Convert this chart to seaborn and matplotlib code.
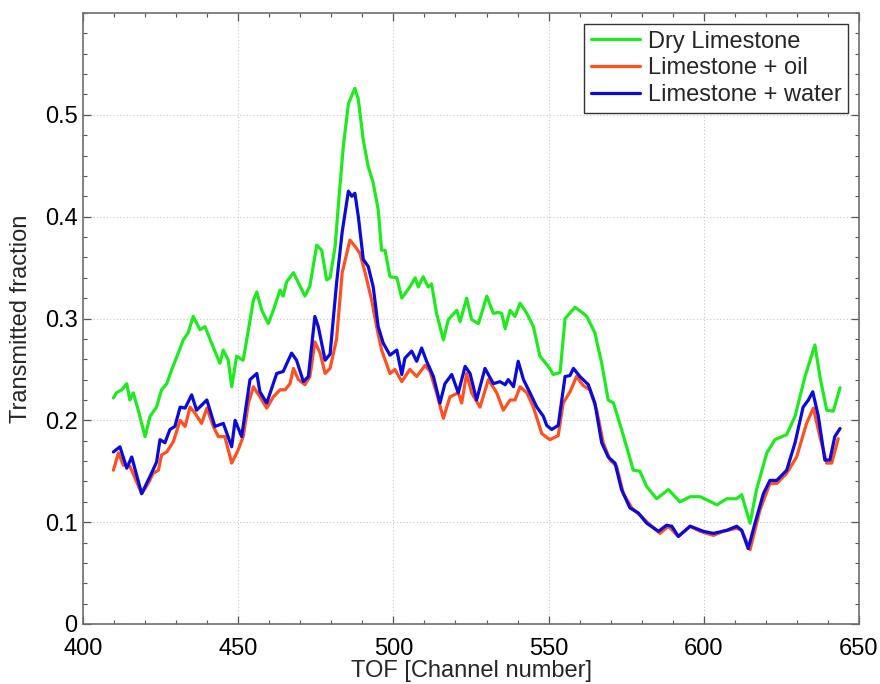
import numpy as np
import pandas as pd
import matplotlib
matplotlib.use("Agg")
import matplotlib.pyplot as plt
import seaborn as sns

series_names = ["Dry Limestone", "Limestone + oil", "Limestone + water"]
series_colors = ["#1EEB1E", "#FF5020", "#0A0ADC"]

x_dry = [409.8, 410.8, 412.5, 414.1, 415.1, 416.2, 417.8, 420.0, 421.6, 423.7, 425.3, 427.0, 428.6, 430.7,
         432.3, 433.9, 435.5, 437.7, 439.3, 441.4, 444.1, 445.2, 446.8, 447.9, 449.5, 451.6, 453.3, 454.9,
         456.0, 457.6, 459.7, 461.3, 463.5, 464.5, 465.6, 467.8, 469.4, 471.5, 473.1, 475.3, 476.9, 478.5,
         479.6, 481.2, 482.5, 483.9, 485.5, 487.6, 488.7, 490.3, 491.9, 493.5, 495.1, 496.2, 497.3, 498.9,
         501.1, 502.7, 505.3, 507.0, 508.0, 509.6, 511.2, 512.3, 513.9, 516.1, 517.7, 520.4, 521.5, 523.6,
         525.2, 527.4, 530.1, 532.2, 533.8, 534.9, 536.0, 537.6, 539.2, 540.8, 543.0, 545.1, 547.2, 549.9,
         551.5, 553.7, 555.3, 558.5, 561.2, 562.3, 564.9, 567.1, 569.2, 570.9, 573.5, 575.7, 577.3, 579.4,
         581.6, 584.8, 588.6, 592.3, 595.6, 598.8, 600.9, 604.2, 607.4, 610.6, 612.2, 614.9, 617.0, 620.3,
         622.9, 626.7, 629.4, 632.6, 635.8, 637.4, 639.6, 641.7, 643.9]
y_dry = [0.222, 0.227, 0.230, 0.236, 0.220, 0.227, 0.210, 0.184, 0.204, 0.213, 0.230, 0.236, 0.250, 0.266,
         0.279, 0.286, 0.302, 0.289, 0.292, 0.276, 0.256, 0.269, 0.259, 0.233, 0.263, 0.259, 0.289, 0.318,
         0.326, 0.308, 0.295, 0.308, 0.328, 0.322, 0.336, 0.345, 0.335, 0.322, 0.332, 0.372, 0.367, 0.338,
         0.340, 0.370, 0.420, 0.470, 0.511, 0.526, 0.515, 0.475, 0.449, 0.433, 0.407, 0.367, 0.367, 0.341,
         0.340, 0.320, 0.331, 0.340, 0.331, 0.341, 0.331, 0.334, 0.305, 0.279, 0.299, 0.308, 0.297, 0.320,
         0.299, 0.295, 0.322, 0.305, 0.306, 0.305, 0.290, 0.308, 0.302, 0.315, 0.305, 0.292, 0.263, 0.253,
         0.245, 0.247, 0.300, 0.311, 0.305, 0.302, 0.286, 0.256, 0.220, 0.217, 0.191, 0.168, 0.151, 0.150,
         0.135, 0.123, 0.132, 0.120, 0.125, 0.125, 0.122, 0.117, 0.123, 0.123, 0.127, 0.099, 0.132, 0.168,
         0.181, 0.186, 0.204, 0.243, 0.274, 0.243, 0.210, 0.209, 0.232]

x_oil = [409.8, 411.4, 413.0, 415.1, 416.8, 418.9, 421.0, 422.6, 424.3, 425.3, 427.0, 429.1, 431.3, 432.9,
         434.5, 436.1, 438.2, 439.9, 442.0, 443.6, 445.7, 447.9, 450.0, 451.6, 453.3, 454.9, 457.0, 459.2,
         461.3, 463.5, 465.1, 466.7, 467.8, 469.4, 471.5, 473.1, 474.7, 476.4, 478.0, 479.6, 481.7, 483.5,
         486.0, 487.6, 489.2, 490.9, 493.0, 494.6, 496.2, 498.9, 500.5, 502.7, 505.3, 507.5, 510.2, 511.8,
         513.9, 516.1, 518.2, 520.9, 522.0, 523.6, 525.2, 527.9, 530.6, 533.3, 535.4, 537.6, 539.2, 540.8,
         543.0, 545.1, 547.8, 550.4, 553.1, 554.7, 556.9, 559.0, 561.2, 563.3, 565.5, 567.6, 569.8, 571.9,
         574.1, 576.8, 579.4, 582.1, 585.9, 588.6, 591.8, 595.6, 598.8, 603.1, 606.3, 610.6, 612.2, 614.9,
         618.1, 621.3, 623.5, 626.7, 629.9, 633.1, 635.3, 637.4, 639.6, 641.2, 643.3]
y_oil = [0.151, 0.168, 0.156, 0.155, 0.143, 0.128, 0.138, 0.148, 0.151, 0.166, 0.169, 0.179, 0.200, 0.194,
         0.213, 0.207, 0.197, 0.212, 0.194, 0.184, 0.184, 0.158, 0.171, 0.184, 0.217, 0.233, 0.223, 0.212,
         0.223, 0.230, 0.230, 0.236, 0.251, 0.240, 0.235, 0.243, 0.277, 0.266, 0.246, 0.251, 0.280, 0.345,
         0.377, 0.371, 0.364, 0.345, 0.318, 0.292, 0.269, 0.246, 0.250, 0.238, 0.250, 0.243, 0.254, 0.248,
         0.227, 0.202, 0.223, 0.227, 0.217, 0.246, 0.227, 0.213, 0.240, 0.227, 0.210, 0.220, 0.220, 0.233,
         0.227, 0.213, 0.187, 0.181, 0.185, 0.217, 0.228, 0.243, 0.234, 0.230, 0.210, 0.178, 0.161, 0.155,
         0.128, 0.114, 0.107, 0.099, 0.089, 0.096, 0.086, 0.096, 0.091, 0.087, 0.091, 0.094, 0.092, 0.073,
         0.112, 0.138, 0.138, 0.148, 0.164, 0.197, 0.212, 0.184, 0.158, 0.158, 0.182]

x_water = [409.8, 411.9, 414.1, 415.7, 418.9, 421.6, 423.7, 424.8, 426.4, 428.0, 429.6, 431.3, 432.9, 435.0,
           436.6, 439.9, 442.5, 445.2, 447.9, 449.0, 451.1, 453.8, 456.0, 457.0, 459.2, 462.4, 464.5, 467.2,
           468.8, 471.0, 472.6, 474.7, 475.8, 478.0, 479.6, 481.7, 483.5, 485.5, 486.6, 487.6, 488.7, 490.3,
           491.9, 493.5, 495.1, 496.7, 498.9, 501.1, 502.7, 503.7, 505.9, 507.5, 509.1, 510.7, 512.9, 515.0,
           516.6, 518.8, 520.9, 523.1, 524.7, 526.8, 529.5, 532.2, 534.3, 536.0, 537.0, 538.7, 540.2, 541.9,
           544.0, 546.2, 548.3, 549.4, 551.0, 553.1, 555.3, 556.9, 558.0, 560.1, 562.8, 564.9, 567.1, 569.2,
           571.4, 573.5, 576.2, 578.9, 581.6, 585.4, 588.0, 589.7, 591.8, 595.6, 599.9, 603.1, 607.4, 610.6,
           612.2, 614.3, 616.5, 619.2, 621.3, 623.5, 626.7, 629.4, 632.0, 633.7, 635.1, 636.9, 639.0, 640.6,
           642.2, 643.9]
y_water = [0.169, 0.174, 0.153, 0.164, 0.128, 0.145, 0.159, 0.181, 0.178, 0.191, 0.194, 0.213, 0.212, 0.225,
           0.210, 0.220, 0.194, 0.197, 0.174, 0.200, 0.184, 0.240, 0.246, 0.228, 0.217, 0.246, 0.248, 0.266,
           0.259, 0.238, 0.243, 0.302, 0.292, 0.259, 0.265, 0.335, 0.385, 0.425, 0.420, 0.423, 0.400, 0.358,
           0.351, 0.331, 0.292, 0.276, 0.264, 0.269, 0.245, 0.261, 0.268, 0.258, 0.271, 0.258, 0.243, 0.217,
           0.236, 0.245, 0.227, 0.253, 0.246, 0.220, 0.251, 0.236, 0.238, 0.235, 0.240, 0.233, 0.258, 0.240,
           0.227, 0.213, 0.204, 0.195, 0.191, 0.195, 0.243, 0.244, 0.251, 0.243, 0.235, 0.217, 0.178, 0.164,
           0.158, 0.132, 0.114, 0.109, 0.099, 0.091, 0.097, 0.096, 0.086, 0.096, 0.091, 0.089, 0.092, 0.096,
           0.092, 0.074, 0.099, 0.128, 0.141, 0.141, 0.151, 0.178, 0.213, 0.220, 0.228, 0.204, 0.161, 0.161,
           0.184, 0.192]

x_ticks = [400, 450, 500, 550, 600, 650]
y_ticks = [0, 0.1, 0.2, 0.3, 0.4, 0.5]
y_tick_labels = ["0", "0.1", "0.2", "0.3", "0.4", "0.5"]

frames = []
for name, xs, ys in zip(series_names, [x_dry, x_oil, x_water], [y_dry, y_oil, y_water]):
    frames.append(pd.DataFrame({"TOF": xs, "frac": ys, "series": name}))
df = pd.concat(frames, ignore_index=True)

sns.set_style("ticks")
plt.rcParams["font.family"] = ["Liberation Sans", "DejaVu Sans"]
plt.rcParams["xtick.direction"] = "in"
plt.rcParams["ytick.direction"] = "in"

fig = plt.figure(figsize=(8.8, 6.84), dpi=100)
ax = fig.add_axes([83 / 880, 1 - 624 / 684, (859 - 83) / 880, (624 - 13) / 684])

sns.lineplot(data=df, x="TOF", y="frac", hue="series", hue_order=series_names,
             palette=dict(zip(series_names, series_colors)), estimator=None, sort=False,
             linewidth=2.3, ax=ax)

ax.set_xlim(400, 650)
ax.set_ylim(0, 0.6)
ax.set_xticks(x_ticks)
ax.set_xticklabels([str(t) for t in x_ticks])
ax.set_yticks(y_ticks)
ax.set_yticklabels(y_tick_labels)
ax.set_xticks(np.arange(400, 651, 10), minor=True)
ax.set_yticks(np.arange(0, 0.601, 0.02), minor=True)
ax.tick_params(which="both", top=True, right=True, direction="in", colors="#555555",
               labelcolor="black", labelsize=17)
ax.tick_params(which="major", length=6, width=0.9)
ax.tick_params(which="minor", length=3, width=0.8)
ax.tick_params(axis="x", pad=10)
ax.tick_params(axis="y", pad=4)
for s in ax.spines.values():
    s.set_visible(True)
    s.set_color("#6e6e6e")
    s.set_linewidth(1.2)
ax.grid(True, which="major", linestyle=(0, (1, 2)), color="#c8c8c8", linewidth=0.8)
ax.set_axisbelow(True)

ax.set_xlabel("TOF [Channel number]", fontsize=17, labelpad=0)
ax.set_ylabel("Transmitted fraction", fontsize=17, labelpad=9)

leg = ax.legend(loc="upper right", fontsize=17, frameon=True, fancybox=False,
                edgecolor="#333333", framealpha=1, handlelength=2.1, handletextpad=0.3,
                labelspacing=0.2, borderpad=0.3, borderaxespad=0.45)
leg.get_frame().set_linewidth(1.0)
for line in leg.get_lines():
    line.set_linewidth(2.3)
leg.set_title(None)

fig.savefig("out.png", dpi=100, facecolor="white")
